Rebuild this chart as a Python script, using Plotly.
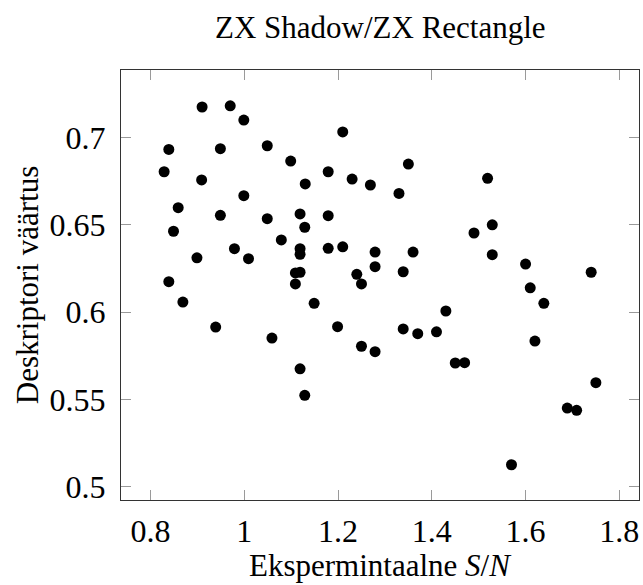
import plotly.graph_objects as go

# Measured descriptor value versus experimental signal-to-noise ratio
sn_ratio = [
    0.910, 0.970, 0.999, 1.210, 0.839, 0.949, 1.049, 1.099, 0.829, 1.179,
    0.909, 1.230, 1.269, 1.130, 0.999, 0.859, 0.949, 1.049, 1.119, 1.179,
    0.849, 1.129, 1.079, 0.979, 1.119, 1.119, 1.179, 1.210, 0.899, 1.009,
    1.279, 1.279, 1.109, 1.119, 1.109, 1.240, 1.250, 0.839,
    1.350, 1.330, 1.519, 1.529, 1.490, 1.360, 1.529, 1.339, 1.600, 1.740,
    1.610,
    0.869, 0.939, 1.059, 1.149, 1.199, 1.250, 1.279, 1.119, 1.129,
    1.639, 1.430, 1.339, 1.370, 1.410, 1.620, 1.450, 1.470, 1.750, 1.689,
    1.709, 1.570,
]
descriptor = [
    0.7176, 0.7183, 0.7101, 0.7033, 0.6933, 0.6937, 0.6954, 0.6866, 0.6805, 0.6805,
    0.6758, 0.6763, 0.6729, 0.6735, 0.6668, 0.6599, 0.6555, 0.6536, 0.6563, 0.6553,
    0.6464, 0.6487, 0.6414, 0.6364, 0.6364, 0.6332, 0.6366, 0.6375, 0.6312, 0.6307,
    0.6345, 0.6261, 0.6225, 0.6229, 0.6162, 0.6217, 0.6162, 0.6175,
    0.6849, 0.6681, 0.6767, 0.6501, 0.6454, 0.6345, 0.6330, 0.6232, 0.6276, 0.6229,
    0.6140,
    0.6058, 0.5915, 0.5852, 0.6051, 0.5917, 0.5805, 0.5774, 0.5676, 0.5524,
    0.6051, 0.6007, 0.5904, 0.5877, 0.5888, 0.5835, 0.5709, 0.5711, 0.5596, 0.5451,
    0.5438, 0.5126,
]

x_ticks = [0.8, 1.0, 1.2, 1.4, 1.6, 1.8]
x_tick_text = ["0.8", "1", "1.2", "1.4", "1.6", "1.8"]
y_ticks = [0.5, 0.55, 0.6, 0.65, 0.7]
y_tick_text = ["0.5", "0.55", "0.6", "0.65", "0.7"]

title_text = "ZX Shadow/ZX Rectangle"
x_label = "Ekspermintaalne <i>S</i>/<i>N</i>"
y_label = "Deskriptori väärtus"

FONT = "Liberation Serif"

fig = go.Figure(
    go.Scatter(
        x=sn_ratio,
        y=descriptor,
        mode="markers",
        marker=dict(color="black", size=11, line=dict(width=0)),
        hoverinfo="x+y",
    )
)

axis_common = dict(
    showgrid=False,
    zeroline=False,
    showline=True,
    linecolor="#333333",
    linewidth=1.2,
    mirror="ticks",
    ticks="inside",
    ticklen=10,
    tickwidth=1,
    tickcolor="#9a9a9a",
    tickfont=dict(family=FONT, size=32, color="black"),
)

fig.update_xaxes(
    range=[0.737, 1.842],
    tickvals=x_ticks,
    ticktext=x_tick_text,
    ticklabelstandoff=2,
    **axis_common,
)
fig.update_yaxes(
    range=[0.4924, 0.7388],
    tickvals=y_ticks,
    ticktext=y_tick_text,
    ticklabelstandoff=8,
    **axis_common,
)

fig.update_layout(
    width=643,
    height=585,
    margin=dict(l=121, r=4, t=70, b=85),
    paper_bgcolor="white",
    plot_bgcolor="white",
    showlegend=False,
    annotations=[
        dict(
            text=title_text, x=0.5, y=1.098, xref="paper", yref="paper",
            showarrow=False, xanchor="center", yanchor="middle",
            font=dict(family=FONT, size=31, color="black"),
        ),
        dict(
            text=x_label, x=0.5, y=-0.152, xref="paper", yref="paper",
            showarrow=False, xanchor="center", yanchor="middle",
            font=dict(family=FONT, size=31, color="black"),
        ),
        dict(
            text=y_label, x=-0.181, y=0.5, xref="paper", yref="paper",
            showarrow=False, xanchor="center", yanchor="middle", textangle=-90,
            font=dict(family=FONT, size=31, color="black"),
        ),
    ],
)

fig.write_html("out.html")
